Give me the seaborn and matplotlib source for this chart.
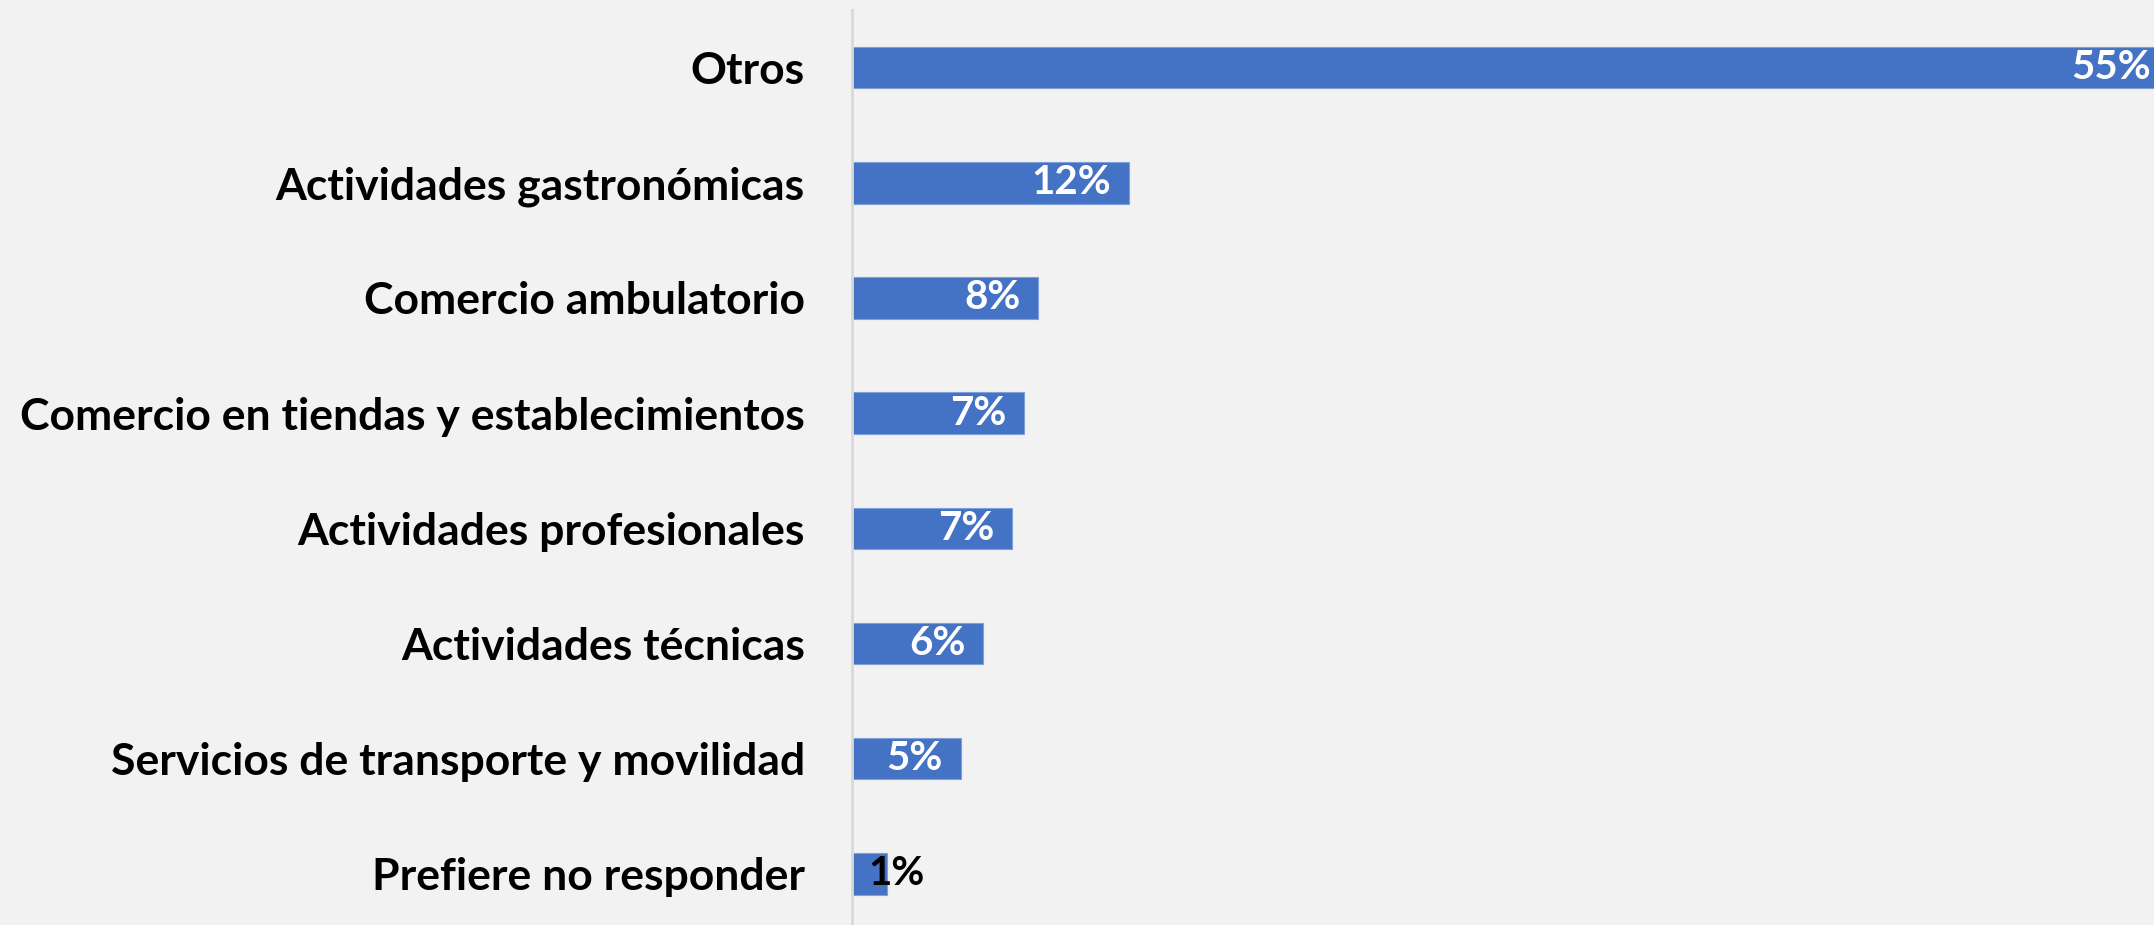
import matplotlib
matplotlib.use("Agg")
import matplotlib.pyplot as plt
import seaborn as sns

# --------------------------
# DATA
# --------------------------
categorias = [
    "Otros",
    "Actividades gastronómicas",
    "Comercio ambulatorio",
    "Comercio en tiendas y establecimientos",
    "Actividades profesionales",
    "Actividades técnicas",
    "Servicios de transporte y movilidad",
    "Prefiere no responder",
]
porcentajes = [55.1, 11.6, 7.8, 7.2, 6.7, 5.5, 4.55, 1.45]
etiquetas = ["55%", "12%", "8%", "7%", "7%", "6%", "5%", "1%"]

# --------------------------
# STYLE
# --------------------------
sns.set_style("white")
plt.rcParams["font.family"] = ["Lato", "DejaVu Sans"]

bg = "#F2F2F2"
azul = "#4472C4"

fig = plt.figure(figsize=(21.54, 9.25), dpi=100, facecolor=bg)
# plot area: left edge at the axis line, top a bit below the figure top
ax = fig.add_axes([852 / 2154, -6.5 / 925, 1 - 852 / 2154, 921.5 / 925])
ax.set_facecolor(bg)

sns.barplot(x=porcentajes, y=categorias, color=azul, orient="h",
            width=0.36, saturation=1, ax=ax, edgecolor="#7E9FD8", linewidth=0.8)

ax.set_xlim(0, 1302 / 23.9)
ax.set_ylim(7.5, -0.5)
ax.set_xticks([])
ax.set_xlabel("")
ax.set_ylabel("")

for s in ["top", "right", "bottom"]:
    ax.spines[s].set_visible(False)
ax.spines["left"].set_color("#D9D9D9")
ax.spines["left"].set_linewidth(2)

ax.tick_params(axis="y", length=0, pad=34)
for t in ax.get_yticklabels():
    t.set_fontsize(32)
    t.set_fontweight("bold")
    t.set_color("black")

# data labels
for i, (v, lab) in enumerate(zip(porcentajes, etiquetas)):
    if v < 3:
        ax.annotate(lab, (v, i), xytext=(-13, 0), textcoords="offset points",
                    ha="left", va="center", fontsize=29, fontweight="bold",
                    color="black")
    else:
        ax.annotate(lab, (v, i), xytext=(-13, 0), textcoords="offset points",
                    ha="right", va="center", fontsize=29, fontweight="bold",
                    color="white", annotation_clip=False)

fig.savefig("out.png", dpi=100, facecolor=bg)
